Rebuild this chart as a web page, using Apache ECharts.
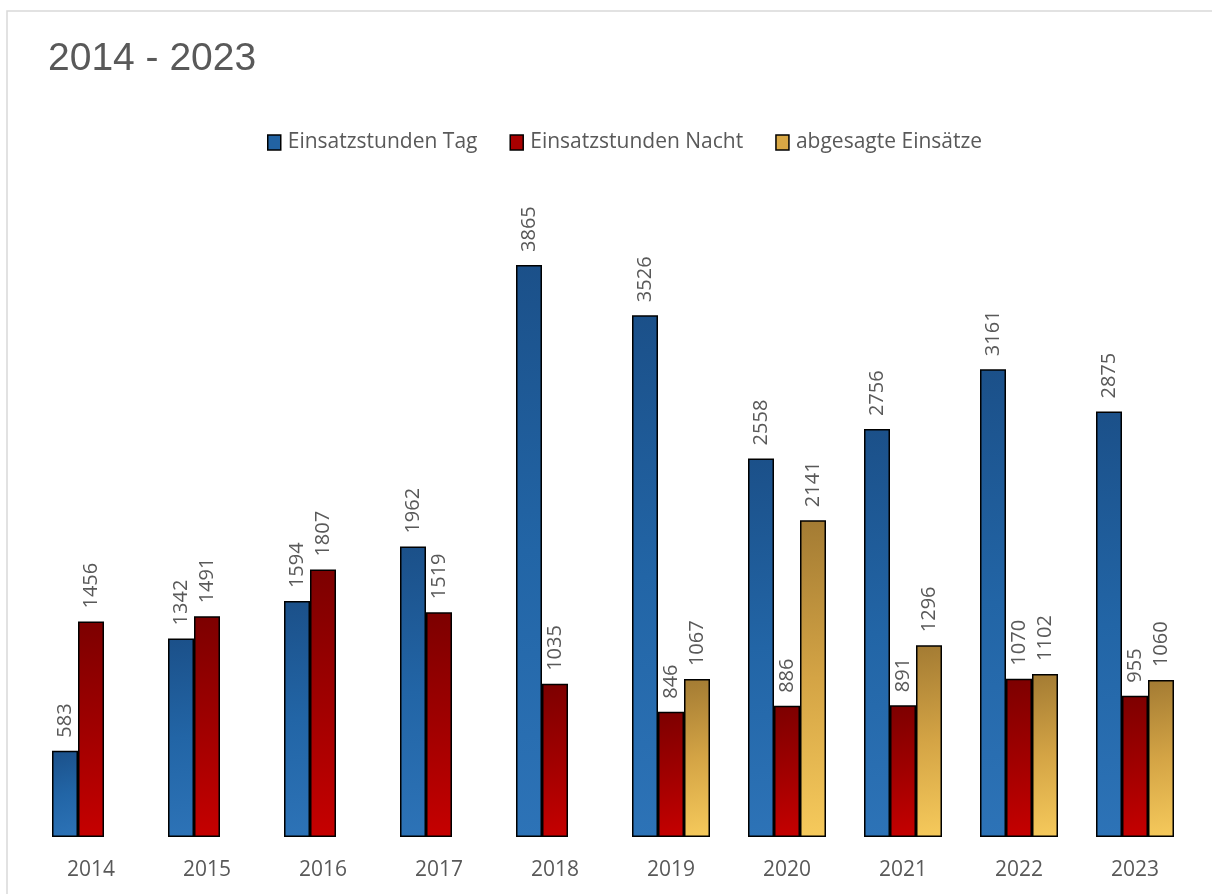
<!DOCTYPE html>
<html><head><meta charset="utf-8">
<script src="https://cdn.jsdelivr.net/npm/echarts@6/dist/echarts.min.js"></script>
<style>html,body{margin:0;padding:0;background:#fff}#c{width:1212px;height:894px}</style>
</head><body><div id="c"></div>
<script>
const categories = ['2014','2015','2016','2017','2018','2019','2020','2021','2022','2023'];
const tag = [583,1342,1594,1962,3865,3526,2558,2756,3161,2875];
const nacht = [1456,1491,1807,1519,1035,846,886,891,1070,955];
const abgesagt = [null,null,null,null,null,1067,2141,1296,1102,1060];
const seriesNames = ['Einsatzstunden Tag','Einsatzstunden Nacht','abgesagte Einsätze'];

function grad(c1, cm, c2){
  return new echarts.graphic.LinearGradient(0,0,1,1,[{offset:0,color:c1},{offset:0.5,color:cm},{offset:1,color:c2}]);
}
const fills = [grad('#1b5089','#2265a6','#2d73b7'), grad('#7c0000','#a00000','#c60000'), grad('#a37b33','#d4a445','#f6ca5c')];
const legendFills = ['#2263a3','#a80000','#d9a845'];
const font = '"Open Sans", sans-serif';
const lbl = {show:true, position:'top', rotate:90, align:'left', verticalAlign:'middle', distance:13,
  color:'#595959', fontSize:20, fontFamily:font};

const chart = echarts.init(document.getElementById('c'), null, {renderer:'canvas'});
chart.setOption({
  animation:false,
  backgroundColor:'#fff',
  graphic:[{type:'rect', shape:{x:7,y:11,width:1240,height:920}, style:{fill:'none', stroke:'#d9d9d9', lineWidth:1.5}, silent:true}],
  title:{text:'2014 - 2023', left:43, top:35, textStyle:{fontFamily:'"Liberation Sans", Arial, sans-serif', fontSize:39, fontWeight:'normal', color:'#595959'}},
  legend:{top:127, left:262, itemWidth:13, itemHeight:15, itemGap:32, icon:'rect',
    textStyle:{fontFamily:font, fontSize:21, color:'#595959', padding:[0,0,0,2]},
    data:seriesNames.map((n,i)=>({name:n, itemStyle:{color:legendFills[i], borderColor:'#000', borderWidth:1.5}}))},
  grid:{left:33, right:19, top:171, bottom:57},
  xAxis:{type:'category', data:categories, axisLine:{show:false}, axisTick:{show:false},
    axisLabel:{color:'#595959', fontSize:21, fontFamily:font, margin:23}},
  yAxis:{type:'value', min:0, max:4500, show:false, splitLine:{show:false}},
  series:[
    {name:seriesNames[0], type:'bar', data:tag, barWidth:26, barGap:'0%', itemStyle:{color:fills[0], borderColor:'#000', borderWidth:1.5}, label:lbl},
    {name:seriesNames[1], type:'bar', data:nacht, barWidth:26, barGap:'0%', itemStyle:{color:fills[1], borderColor:'#000', borderWidth:1.5}, label:lbl},
    {name:seriesNames[2], type:'bar', data:abgesagt, barWidth:26, barGap:'0%', itemStyle:{color:fills[2], borderColor:'#000', borderWidth:1.5}, label:lbl}
  ]
});
</script></body></html>
